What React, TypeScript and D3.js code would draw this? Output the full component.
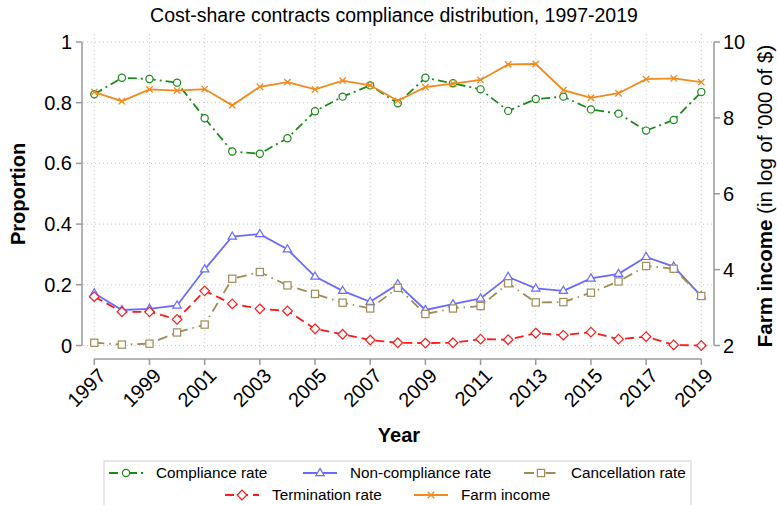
import React from 'react';
import * as d3 from 'd3';

const years = [1997, 1998, 1999, 2000, 2001, 2002, 2003, 2004, 2005, 2006, 2007, 2008, 2009, 2010, 2011, 2012, 2013, 2014, 2015, 2016, 2017, 2018, 2019];
const compliance = [0.828, 0.882, 0.878, 0.866, 0.749, 0.639, 0.632, 0.683, 0.772, 0.820, 0.857, 0.798, 0.882, 0.864, 0.844, 0.773, 0.812, 0.820, 0.778, 0.764, 0.708, 0.743, 0.835];
const nonCompliance = [0.172, 0.117, 0.121, 0.132, 0.251, 0.359, 0.367, 0.317, 0.227, 0.180, 0.144, 0.202, 0.117, 0.136, 0.155, 0.226, 0.188, 0.180, 0.221, 0.236, 0.292, 0.260, 0.163];
const cancellation = [0.009, 0.003, 0.006, 0.043, 0.069, 0.220, 0.242, 0.198, 0.170, 0.141, 0.122, 0.190, 0.104, 0.122, 0.130, 0.205, 0.142, 0.143, 0.174, 0.211, 0.262, 0.253, 0.163];
const termination = [0.161, 0.111, 0.111, 0.086, 0.180, 0.137, 0.121, 0.114, 0.055, 0.037, 0.018, 0.009, 0.008, 0.009, 0.021, 0.019, 0.041, 0.034, 0.044, 0.021, 0.029, 0.002, 0.000];
const farmIncome = [8.68, 8.44, 8.75, 8.72, 8.76, 8.33, 8.82, 8.94, 8.75, 8.98, 8.86, 8.45, 8.81, 8.90, 9.00, 9.41, 9.42, 8.73, 8.53, 8.65, 9.02, 9.04, 8.94];

const xTicks = [1997, 1999, 2001, 2003, 2005, 2007, 2009, 2011, 2013, 2015, 2017, 2019];
const leftTicks = [0, 0.2, 0.4, 0.6, 0.8, 1];
const leftTickLabels = ['0', '0.2', '0.4', '0.6', '0.8', '1'];
const rightTicks = [2, 4, 6, 8, 10];

const FONT = '"Liberation Sans", Arial, Helvetica, sans-serif';
const W = 777, H = 505;

type Series = { name: string; values: number[]; color: string; dash?: string; marker: string; axis: 'l' | 'r' };

const series: Series[] = [
  { name: 'Compliance rate', values: compliance, color: '#1a8a1a', dash: '9,4,2,4', marker: 'circle', axis: 'l' },
  { name: 'Non-compliance rate', values: nonCompliance, color: '#6a6aff', marker: 'triangle', axis: 'l' },
  { name: 'Cancellation rate', values: cancellation, color: '#a08c55', dash: '10,5,1.5,5', marker: 'square', axis: 'l' },
  { name: 'Termination rate', values: termination, color: '#ff1a1a', dash: '9,5', marker: 'diamond', axis: 'l' },
  { name: 'Farm income', values: farmIncome, color: '#f28a1e', marker: 'x', axis: 'r' },
];

// legend positions (key start x, row y)
const legendPos = [
  { x: 109, y: 473 }, { x: 303, y: 473 }, { x: 524, y: 473 },
  { x: 225, y: 495 }, { x: 414, y: 495 },
];

const Marker: React.FC<{ kind: string; x: number; y: number; color: string }> = ({ kind, x, y, color }) => {
  const common = { fill: 'white', stroke: color, strokeWidth: 1.2 };
  if (kind === 'circle') return <circle cx={x} cy={y} r={3.6} {...common} />;
  if (kind === 'triangle') return <path d={`M${x},${y - 4.6}L${x + 4.2},${y + 2.6}L${x - 4.2},${y + 2.6}Z`} {...common} />;
  if (kind === 'square') return <rect x={x - 3.6} y={y - 3.6} width={7.2} height={7.2} {...common} />;
  if (kind === 'diamond') return <path d={`M${x},${y - 4.8}L${x + 4.8},${y}L${x},${y + 4.8}L${x - 4.8},${y}Z`} {...common} />;
  return <path d={`M${x - 3.2},${y - 3.2}L${x + 3.2},${y + 3.2}M${x - 3.2},${y + 3.2}L${x + 3.2},${y - 3.2}`} fill="none" stroke={color} strokeWidth={1.3} />;
};

const App: React.FC = () => {
  const x = d3.scaleLinear().domain([1997, 2019]).range([94.3, 701.3]);
  const yL = d3.scaleLinear().domain([0, 1]).range([345.5, 42]);
  const yR = d3.scaleLinear().domain([2, 10]).range([345.5, 42]);
  const axisColor = '#9a9a9a';
  const gridColor = '#c8c8c8';

  return (
    <svg width={W} height={H} style={{ position: 'absolute', left: 0, top: 0, background: 'white' }} fontFamily={FONT}>
      <rect width={W} height={H} fill="white" />
      <text x={394} y={22} textAnchor="middle" fontSize={19.5}>Cost-share contracts compliance distribution, 1997-2019</text>

      {/* grid */}
      {leftTicks.map((t) => (
        <line key={'hg' + t} x1={83} x2={713} y1={yL(t)} y2={yL(t)} stroke={gridColor} strokeWidth={1} strokeDasharray="1,3" />
      ))}
      {xTicks.map((t) => (
        <line key={'vg' + t} x1={x(t)} x2={x(t)} y1={34} y2={353} stroke={gridColor} strokeWidth={1} strokeDasharray="1,3" />
      ))}

      {/* left axis */}
      <line x1={82} x2={82} y1={yL(0)} y2={yL(1)} stroke={axisColor} strokeWidth={1.5} />
      {leftTicks.map((t, i) => (
        <g key={'lt' + t}>
          <line x1={76} x2={82} y1={yL(t)} y2={yL(t)} stroke={axisColor} strokeWidth={1.5} />
          <text x={72} y={yL(t)} dy="0.35em" textAnchor="end" fontSize={20}>{leftTickLabels[i]}</text>
        </g>
      ))}
      <text transform={`translate(25,194) rotate(-90)`} textAnchor="middle" fontSize={20} fontWeight="bold">Proportion</text>

      {/* right axis */}
      <line x1={714} x2={714} y1={yR(2)} y2={yR(10)} stroke={axisColor} strokeWidth={1.5} />
      {rightTicks.map((t) => (
        <g key={'rt' + t}>
          <line x1={714} x2={720} y1={yR(t)} y2={yR(t)} stroke={axisColor} strokeWidth={1.5} />
          <text x={723} y={yR(t)} dy="0.35em" textAnchor="start" fontSize={20}>{t}</text>
        </g>
      ))}
      <text transform={`translate(772,196) rotate(-90)`} textAnchor="middle" fontSize={20.5}>
        <tspan fontWeight="bold">Farm income</tspan> (in log of '000 of $)
      </text>

      {/* x axis */}
      <line x1={x(1997)} x2={x(2019)} y1={359} y2={359} stroke={axisColor} strokeWidth={1.5} />
      {xTicks.map((t) => (
        <g key={'xt' + t}>
          <line x1={x(t)} x2={x(t)} y1={359} y2={365} stroke={axisColor} strokeWidth={1.5} />
          <text transform={`translate(${x(t) + 3},${367}) rotate(-45)`} textAnchor="end" dy="0.7em" fontSize={20}>{t}</text>
        </g>
      ))}
      <text x={399} y={442} textAnchor="middle" fontSize={20} fontWeight="bold">Year</text>

      {/* series */}
      {series.map((s) => {
        const yS = s.axis === 'l' ? yL : yR;
        const line = d3.line<number>().x((_, i) => x(years[i])).y((d) => yS(d));
        return (
          <g key={s.name}>
            <path d={line(s.values) || ''} fill="none" stroke={s.color} strokeWidth={1.8} strokeDasharray={s.dash} />
            {s.values.map((v, i) => (
              <Marker key={i} kind={s.marker} x={x(years[i])} y={yS(v)} color={s.color} />
            ))}
          </g>
        );
      })}

      {/* legend */}
      <rect x={104} y={461} width={587} height={60} fill="white" stroke="#d0d0d0" strokeWidth={1} />
      {series.map((s, i) => {
        const p = legendPos[i];
        return (
          <g key={'lg' + s.name}>
            <line x1={p.x} x2={p.x + 34} y1={p.y} y2={p.y} stroke={s.color} strokeWidth={1.8} strokeDasharray={s.dash} />
            <Marker kind={s.marker} x={p.x + 17} y={p.y} color={s.color} />
            <text x={p.x + 47} y={p.y} dy="0.35em" fontSize={15.3}>{s.name}</text>
          </g>
        );
      })}
    </svg>
  );
};

export default App;
